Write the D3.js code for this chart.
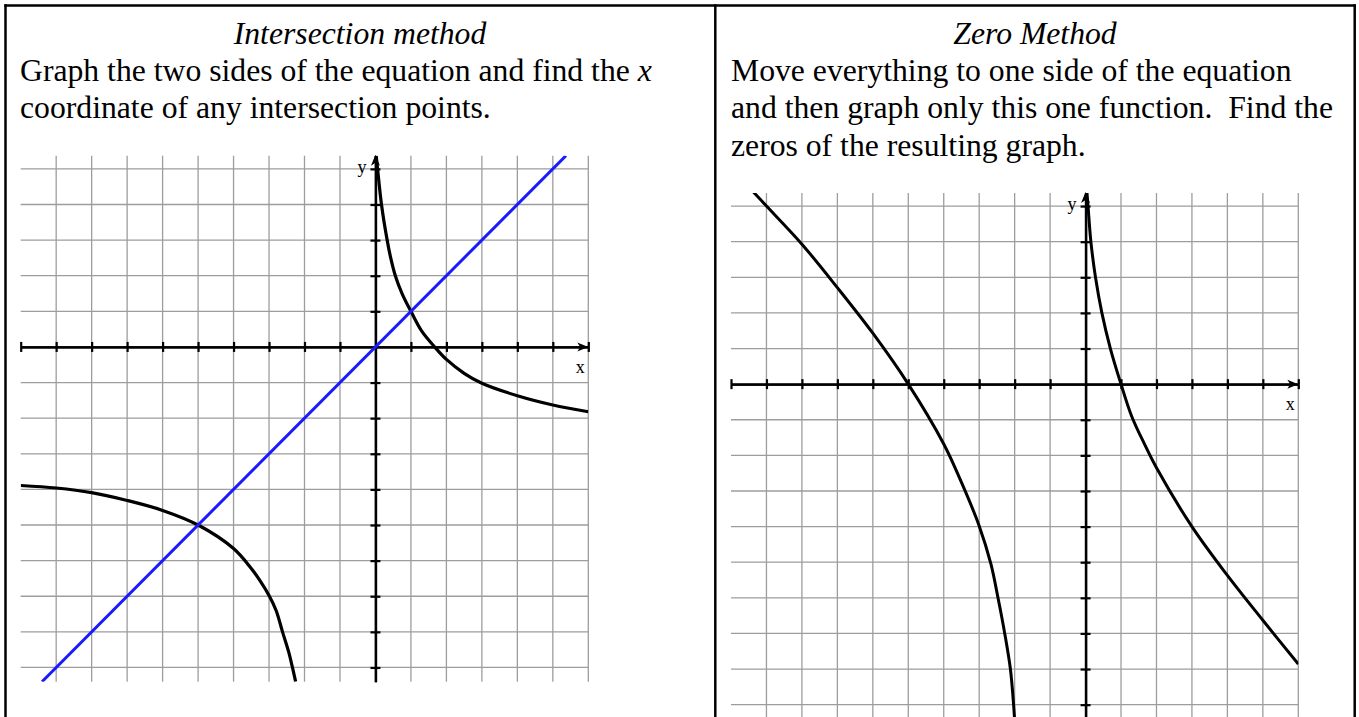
<!DOCTYPE html>
<html><head><meta charset="utf-8">
<script src="https://cdn.jsdelivr.net/npm/d3@7"></script>
<style>body{margin:0;background:#fff}svg{display:block}</style>
</head><body><svg id="c" width="1359" height="717"></svg>
<script>
// ---------- data ----------
const gridX = [-9,-8,-7,-6,-5,-4,-3,-2,-1,0,1,2,3,4,5,6];
const gridY = [-9,-8,-7,-6,-5,-4,-3,-2,-1,0,1,2,3,4,5];
const tickX = [-10,-9,-8,-7,-6,-5,-4,-3,-2,-1,1,2,3,4,5,6];
const tickY = [-9,-8,-7,-6,-5,-4,-3,-2,-1,1,2,3,4,5];

// left chart: y = x (blue)
const lineX = [-9.4, 5.37];
const lineY = [-9.4, 5.37];
// left chart: f(x), right branch
const fRightX = [0.02, 0.06, 0.17, 0.33, 0.43, 0.56, 0.75, 1, 1.3, 1.67, 2, 2.5, 3, 4, 5, 6];
const fRightY = [5.37, 5, 4, 3, 2.5, 2, 1.5, 1, 0.45, 0, -0.35, -0.74, -1.02, -1.37, -1.63, -1.82];
// left chart: f(x), left branch
const fLeftX = [-10, -9, -8, -7, -6, -5, -4, -3.5, -3.25, -3, -2.8, -2.62, -2.45, -2.34, -2.25];
const fLeftY = [-3.89, -3.96, -4.09, -4.31, -4.59, -5, -5.66, -6.22, -6.57, -6.98, -7.4, -8, -8.55, -9, -9.4];
// right chart: g(x) = f(x) - x, left branch
const gLeftX = [-9.4, -9, -8, -7, -6, -5, -4, -3.5, -3, -2.67, -2.47, -2.28, -2.12, -2.03, -2.0];
const gLeftY = [5.43, 5.0, 3.93, 2.71, 1.43, 0, -1.68, -2.76, -3.98, -5.05, -6, -7, -8, -9, -9.45];
// right chart: g(x), right branch
const gRightX = [0.04, 0.07, 0.15, 0.28, 0.46, 0.7, 1, 1.3, 1.67, 2, 3, 4, 5, 6];
const gRightY = [5.37, 5, 4, 3, 2, 1, 0, -0.9, -1.7, -2.35, -4, -5.37, -6.63, -7.86];

const xDomain = [-10, 6];
const yDomain = [-9.4, 5.37];

// ---------- drawing ----------
const svg = d3.select("#c");
const serif = "'Liberation Serif','Times New Roman',Times,serif";
const FS = 31.7, LH = 37.2, B0 = 44;

// table borders
const border = svg.append("g").attr("stroke", "#000").attr("stroke-width", 2.5);
border.append("line").attr("x1", 5.5).attr("x2", 5.5).attr("y1", 4.3).attr("y2", 717);
border.append("line").attr("x1", 715.3).attr("x2", 715.3).attr("y1", 4.3).attr("y2", 717);
border.append("line").attr("x1", 1354.7).attr("x2", 1354.7).attr("y1", 4.3).attr("y2", 717);
border.append("line").attr("x1", 4.3).attr("x2", 1355.9).attr("y1", 5.5).attr("y2", 5.5);

// texts
function textBlock(cx, left, title, lines) {
  svg.append("text").attr("x", cx).attr("y", B0).attr("text-anchor", "middle")
    .attr("font-family", serif).attr("font-size", FS).attr("font-style", "italic").text(title);
  lines.forEach((ln, i) => {
    const t = svg.append("text").attr("x", left).attr("y", B0 + (i + 1) * LH)
      .attr("font-family", serif).attr("font-size", FS).attr("xml:space", "preserve")
      .style("white-space", "pre");
    ln.forEach(seg => {
      t.append("tspan").attr("font-style", seg.it ? "italic" : "normal").text(seg.s);
    });
  });
}
textBlock(360, 20, "Intersection method", [
  [{s: "Graph the two sides of the equation and find the "}, {s: "x", it: true}],
  [{s: "coordinate of any intersection points."}]
]);
textBlock(1035, 731, "Zero Method", [
  [{s: "Move everything to one side of the equation"}],
  [{s: "and then graph only this one function.  Find the"}],
  [{s: "zeros of the resulting graph."}]
]);

function chart(id, xr, yr, series) {
  const x = d3.scaleLinear().domain(xDomain).range(xr);
  const y = d3.scaleLinear().domain(yDomain).range(yr);
  const g = svg.append("g");

  g.append("clipPath").attr("id", id).append("rect")
    .attr("x", xr[0]).attr("y", yr[1]).attr("width", xr[1] - xr[0]).attr("height", yr[0] - yr[1]);

  // grid
  const grid = g.append("g").attr("stroke", "#9d9d9d").attr("stroke-width", 1.3);
  grid.selectAll("line.v").data(gridX).join("line").attr("class", "v")
    .attr("x1", d => x(d)).attr("x2", d => x(d)).attr("y1", yr[1]).attr("y2", yr[0]);
  grid.selectAll("line.h").data(gridY).join("line").attr("class", "h")
    .attr("x1", xr[0]).attr("x2", xr[1]).attr("y1", d => y(d)).attr("y2", d => y(d));

  // axes (ticks on both sides)
  const ax = g.append("g").attr("transform", `translate(0,${y(0)})`);
  ax.append("g").call(d3.axisBottom(x).tickValues(tickX).tickSizeInner(5).tickSizeOuter(0).tickFormat(""));
  ax.append("g").call(d3.axisTop(x).tickValues(tickX).tickSizeInner(5).tickSizeOuter(0).tickFormat(""));
  const ay = g.append("g").attr("transform", `translate(${x(0)},0)`);
  ay.append("g").call(d3.axisLeft(y).tickValues(tickY).tickSizeInner(5).tickSizeOuter(0).tickFormat(""));
  ay.append("g").call(d3.axisRight(y).tickValues(tickY).tickSizeInner(5).tickSizeOuter(0).tickFormat(""));
  g.selectAll(".domain").attr("stroke", "#000").attr("stroke-width", 2.3);
  g.selectAll(".tick line").attr("stroke", "#000").attr("stroke-width", 2.2);

  // arrowheads
  const xe = x(xDomain[1]), y0 = y(0), x0 = x(0), yt = y(yDomain[1]);
  g.append("path").attr("fill", "#000")
    .attr("d", `M${xe},${y0} L${xe - 11},${y0 - 4.5} L${xe - 8},${y0} L${xe - 11},${y0 + 4.5} Z`);
  g.append("path").attr("fill", "#000")
    .attr("d", `M${x0},${yt - 1} L${x0 - 4.5},${yt + 10} L${x0},${yt + 7} L${x0 + 4.5},${yt + 10} Z`);

  // axis labels
  g.append("text").attr("x", x0 - 9).attr("y", y(5) + 4).attr("text-anchor", "end")
    .attr("font-family", serif).attr("font-size", 18).text("y");
  g.append("text").attr("x", xe - 8).attr("y", y0 + 26).attr("text-anchor", "middle")
    .attr("font-family", serif).attr("font-size", 18).text("x");

  // curves
  const line = d3.line().x(d => x(d[0])).y(d => y(d[1])).curve(d3.curveCatmullRom.alpha(0.5));
  const cg = g.append("g").attr("clip-path", `url(#${id})`);
  series.forEach(s => {
    cg.append("path").attr("fill", "none").attr("stroke", s.color).attr("stroke-width", s.w)
      .attr("stroke-linejoin", "round")
      .attr("d", line(s.xs.map((v, i) => [v, s.ys[i]])));
  });
}

chart("clipL", [20.7, 588.3], [681.7, 155.7], [
  {xs: fRightX, ys: fRightY, color: "#000", w: 3.2},
  {xs: fLeftX, ys: fLeftY, color: "#000", w: 3.2},
  {xs: lineX, ys: lineY, color: "#1a1aff", w: 3}
]);
chart("clipR", [731, 1298.3], [718.9, 192.9], [
  {xs: gLeftX, ys: gLeftY, color: "#000", w: 3},
  {xs: gRightX, ys: gRightY, color: "#000", w: 3}
]);
</script>
</body></html>
